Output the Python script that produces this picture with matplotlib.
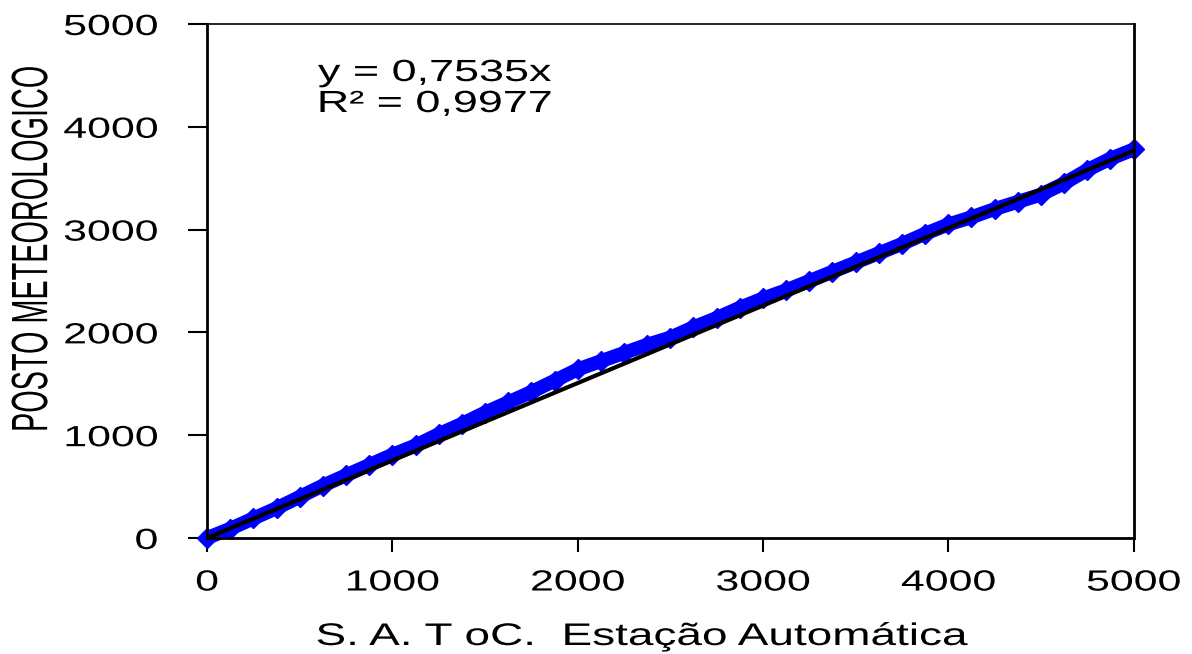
import numpy as np
import matplotlib.pyplot as plt
from matplotlib.patheffects import AbstractPathEffect
from matplotlib.transforms import Affine2D

# dados
sat_auto = [0, 125, 250, 375, 500, 625, 750, 875, 1000, 1125, 1250, 1375, 1500,
            1625, 1750, 1875, 2000, 2125, 2250, 2375, 2500, 2625, 2750, 2875,
            3000, 3125, 3250, 3375, 3500, 3625, 3750, 3875, 4000, 4125, 4250,
            4375, 4500, 4625, 4750, 4875, 5000]
posto = [0, 90, 190, 290, 400, 510, 610, 710, 810, 900, 1010, 1110, 1220,
         1320, 1420, 1530, 1640, 1720, 1800, 1880, 1950, 2050, 2140, 2240,
         2330, 2410, 2500, 2590, 2680, 2770, 2860, 2960, 3050, 3120, 3200,
         3270, 3340, 3450, 3580, 3690, 3780]
slope = 0.7535
r2 = 0.9977


# o gráfico original está esticado na horizontal; o texto também
class Stretch(AbstractPathEffect):
    def __init__(self, sx=1.0, sy=1.0, anchor='center'):
        super().__init__()
        self.sx, self.sy, self.anchor = sx, sy, anchor

    def draw_path(self, renderer, gc, tpath, affine, rgbFace=None):
        ext = tpath.get_extents(affine)
        if self.anchor == 'right':
            cx = ext.x1
        elif self.anchor == 'left':
            cx = ext.x0
        else:
            cx = (ext.x0 + ext.x1) / 2
        cy = (ext.y0 + ext.y1) / 2
        t = affine + Affine2D().translate(-cx, -cy).scale(self.sx, self.sy).translate(cx, cy)
        renderer.draw_path(gc, tpath, t, rgbFace)


SX = 1.47
plt.rcParams['font.family'] = ['Liberation Sans', 'DejaVu Sans']

fig = plt.figure(figsize=(11.92, 6.54), dpi=100)
ax = fig.add_axes([0.1737, 0.1774, 0.951 - 0.1737, 0.9633 - 0.1774])

ax.plot(sat_auto, posto, color='#0000ff', lw=10, marker='D', ms=10,
        mec='#0000ff', mfc='#0000ff', solid_capstyle='round', solid_joinstyle='round',
        clip_on=False, zorder=2)
xfit = np.array([0, 5000])
ax.plot(xfit, slope * xfit, color='black', lw=3, zorder=3)

ax.set_xlim(0, 5000)
ax.set_ylim(0, 5000)
ax.set_xticks(range(0, 5001, 1000))
ax.set_yticks(range(0, 5001, 1000))
ax.tick_params(axis='x', direction='out', length=10, width=1.5, pad=12, labelsize=21)
ax.tick_params(axis='y', direction='out', length=14, width=1.5, pad=21.5, labelsize=21)
for lbl in ax.get_xticklabels():
    lbl.set_path_effects([Stretch(SX)])
for lbl in ax.get_yticklabels():
    lbl.set_path_effects([Stretch(SX, anchor='right')])
for s in ['left', 'bottom', 'right']:
    ax.spines[s].set_linewidth(2)
ax.spines['top'].set_linewidth(1.2)

eq1 = fig.text(318 / 1192, 1 - 81 / 654, f"y = {slope:.4f}x".replace('.', ','),
               fontsize=22, va='baseline', ha='left')
eq2 = fig.text(318 / 1192, 1 - 112 / 654, f"R² = {r2:.4f}".replace('.', ','),
               fontsize=22, va='baseline', ha='left')
for t in (eq1, eq2):
    t.set_path_effects([Stretch(SX, anchor='left')])

xl = fig.text(642 / 1192, 1 - 645 / 654, "S. A. T oC.  Estação Automática",
              ha='center', va='baseline', fontsize=22.5)
xl.set_path_effects([Stretch(SX)])
yl = fig.text(32 / 1192, 1 - 249 / 654, "POSTO METEOROLOGICO", rotation=90,
              ha='center', va='center', fontsize=25)
yl.set_path_effects([Stretch(SX, 0.83)])

fig.savefig('out.png', dpi=100)
